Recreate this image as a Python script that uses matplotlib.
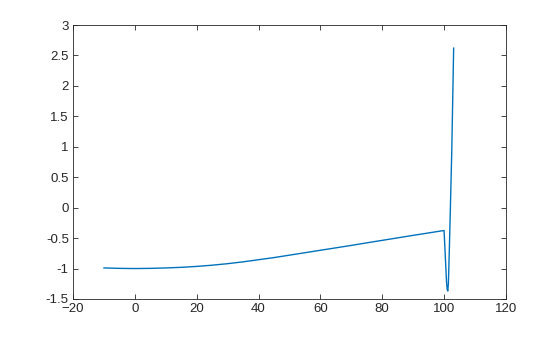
import numpy as np
import matplotlib
matplotlib.use("Agg")
import matplotlib.pyplot as plt

# values
x_vals = [-10, -5, 0, 5, 10, 15, 20, 25, 30, 35, 40, 45, 50, 55, 60, 65, 70,
          75, 80, 85, 90, 95, 100,
          100.4, 100.8, 101.0, 101.2, 101.4, 101.7, 102.0, 102.5, 103.1]
y_vals = [-0.99, -0.997, -1.0, -0.997, -0.99, -0.98, -0.965, -0.945, -0.92,
          -0.89, -0.855, -0.82, -0.78, -0.74, -0.70, -0.66, -0.62,
          -0.578, -0.537, -0.496, -0.455, -0.415, -0.375,
          -0.8, -1.22, -1.34, -1.37, -1.25, -0.7, -0.1, 0.95, 2.62]

x_ticks = np.arange(-20, 121, 20)
y_ticks = np.arange(-1.5, 3.01, 0.5)
y_labels = ["-1.5", "-1", "-0.5", "0", "0.5", "1", "1.5", "2", "2.5", "3"]

plt.rcParams["font.family"] = ["Liberation Sans", "DejaVu Sans"]

fig = plt.figure(figsize=(5.6, 3.37), dpi=100)
ax = fig.add_axes([0.1304, 0.1128, 0.773, 0.813])
ax.plot(x_vals, y_vals, color="#0072BD", lw=1.0)

ax.set_xlim(-20, 120)
ax.set_ylim(-1.5, 3)
ax.set_xticks(x_ticks)
ax.set_yticks(y_ticks)
ax.set_yticklabels(y_labels)
ax.tick_params(direction="in", top=True, right=True, length=3.5, width=0.6,
               colors="#262626", labelsize=9.5, pad=3)
for s in ax.spines.values():
    s.set_linewidth(0.6)
    s.set_color("#262626")

fig.savefig("out.png", dpi=100)
